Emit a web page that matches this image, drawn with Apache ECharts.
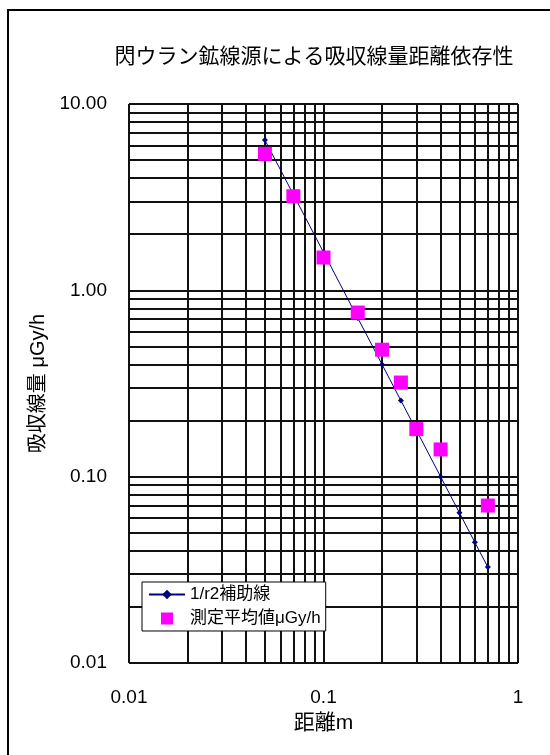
<!DOCTYPE html>
<html>
<head>
<meta charset="utf-8">
<script src="https://cdn.jsdelivr.net/npm/echarts@6/dist/echarts.min.js"></script>
<style>html,body{margin:0;padding:0;background:#fff;}#c{width:550px;height:755px;}</style>
</head>
<body>
<div id="c"></div>
<script>
const titleText = '閃ウラン鉱線源による吸収線量距離依存性';
const xName = '距離m';
const yName = '吸収線量 μGy/h';
const guideName = '1/r2補助線';
const measName = '測定平均値μGy/h';

const guideDistances = [0.05, 0.07, 0.1, 0.15, 0.2, 0.25, 0.3, 0.4, 0.5, 0.6, 0.7];
const guideValues = [6.4, 3.27, 1.6, 0.711, 0.4, 0.256, 0.178, 0.1, 0.064, 0.0444, 0.0327];
const measDistances = [0.05, 0.07, 0.1, 0.15, 0.2, 0.25, 0.3, 0.4, 0.7];
const measValues = [5.4, 3.2, 1.5, 0.76, 0.48, 0.32, 0.18, 0.14, 0.07];

const xDecades = [0.01, 0.1];
const yDecades = [0.01, 0.1, 1];
const multipliers = [1, 2, 3, 4, 5, 6, 7, 8, 9];

const FONT = "'Liberation Sans', 'Noto Sans CJK JP', sans-serif";

function gridValues(decades, top) {
  const out = [];
  decades.forEach(d => multipliers.forEach(m => out.push(Number((d * m).toPrecision(6)))));
  out.push(top);
  return out;
}
const xGrid = gridValues(xDecades, 1);
const yGrid = gridValues(yDecades, 10);

const chart = echarts.init(document.getElementById('c'), null, {renderer: 'canvas'});
chart.setOption({
  animation: false,
  backgroundColor: '#fff',
  title: {
    text: titleText,
    left: 314,
    textAlign: 'center',
    top: 47,
    padding: 0,
    textStyle: {fontFamily: FONT, fontSize: 21, fontWeight: 'normal', color: '#000'}
  },
  graphic: [{
    type: 'rect',
    shape: {x: 8, y: 10, width: 700, height: 900},
    style: {fill: 'none', stroke: '#000', lineWidth: 2},
    silent: true
  }],
  grid: {left: 129, top: 104, right: 32, bottom: 92, containLabel: false},
  legend: {
    orient: 'vertical',
    left: 142,
    top: 582,
    z: 10,
    data: [
      {name: guideName},
      {name: measName, icon: 'path://M0,0h10v10h-10z'}
    ],
    backgroundColor: '#fff',
    borderColor: '#000',
    borderWidth: 1,
    padding: [4, 5, 4, 6],
    itemGap: 7,
    itemWidth: 36,
    itemHeight: 12,
    selectedMode: false,
    textStyle: {fontFamily: FONT, fontSize: 17, color: '#000'}
  },
  xAxis: {
    type: 'log',
    logBase: 10,
    min: 0.01,
    max: 1,
    name: xName,
    nameLocation: 'middle',
    nameGap: 50,
    nameTextStyle: {fontFamily: FONT, fontSize: 21, color: '#000'},
    axisLine: {show: false},
    axisTick: {show: false},
    splitLine: {show: false},
    axisLabel: {
      margin: 25,
      fontFamily: FONT, fontSize: 19, color: '#000',
      formatter: v => String(Number(Number(v).toPrecision(6)))
    }
  },
  yAxis: {
    type: 'log',
    logBase: 10,
    min: 0.01,
    max: 10,
    name: yName,
    nameLocation: 'middle',
    nameGap: 81,
    nameTextStyle: {fontFamily: FONT, fontSize: 20, color: '#000'},
    axisLine: {show: false},
    axisTick: {show: false},
    splitLine: {show: false},
    axisLabel: {
      margin: 22,
      fontFamily: FONT, fontSize: 19, color: '#000',
      formatter: v => Number(v).toFixed(2)
    }
  },
  series: [
    {
      name: 'grid',
      type: 'scatter',
      z: 1,
      silent: true,
      symbolSize: 0,
      data: [],
      markLine: {
        z: 1,
        silent: true,
        symbol: ['none', 'none'],
        label: {show: false},
        emphasis: {disabled: true},
        animation: false,
        lineStyle: {color: '#111', width: 2, type: 'solid'},
        data: xGrid.map(v => ({xAxis: v})).concat(yGrid.map(v => ({yAxis: v})))
      }
    },
    {
      name: guideName,
      type: 'line',
      z: 3,
      data: guideDistances.map((d, i) => [d, guideValues[i]]),
      symbol: 'diamond',
      symbolSize: 6,
      showAllSymbol: true,
      lineStyle: {color: '#000080', width: 1},
      itemStyle: {color: '#000080'}
    },
    {
      name: measName,
      type: 'scatter',
      z: 4,
      data: measDistances.map((d, i) => [d, measValues[i]]),
      symbol: 'rect',
      symbolSize: 14,
      itemStyle: {color: '#ff00ff', opacity: 1}
    }
  ]
});
</script>
</body>
</html>
